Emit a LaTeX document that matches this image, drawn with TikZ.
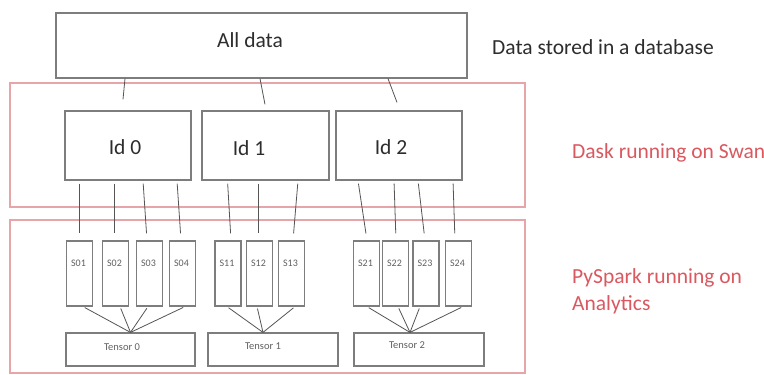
\documentclass[tikz,border=0pt]{standalone}
\usepackage{fontspec}
\setmainfont{Carlito}
\definecolor{boxgray}{RGB}{125,125,125}
\definecolor{linegray}{RGB}{85,85,85}
\definecolor{framered}{RGB}{230,165,168}
\definecolor{textred}{RGB}{218,88,95}
\definecolor{textdark}{RGB}{45,45,45}
\tikzset{
  gbox/.style={draw=boxgray, line width=1.2pt, rectangle, inner sep=0pt, fill=white},
  rframe/.style={draw=framered, line width=1.1pt, rectangle, inner sep=0pt},
  conn/.style={draw=linegray, line width=0.8pt},
  bigtxt/.style={font=\fontsize{21.5}{27}\selectfont, text=textdark, inner sep=0pt},
  redtxt/.style={font=\fontsize{21.5}{27}\selectfont, text=textred, inner sep=0pt, align=left},
  smalltxt/.style={font=\fontsize{10}{12}\selectfont, text=gray!75!black, inner sep=0pt},
  sbox/.style={gbox, minimum width=26pt, minimum height=65pt},
  tbox/.style={gbox, minimum width=129pt, minimum height=33pt},
  idbox/.style={gbox, minimum width=126pt, minimum height=69pt},
}
\begin{document}
\begin{tikzpicture}[x=1pt,y=-1pt]
\useasboundingbox (0,0) rectangle (764,375);
\fill[white] (0,0) rectangle (764,375);

% red frames
\node[rframe, minimum width=515pt, minimum height=124pt] (dask) at (267.5,145) {};
\node[rframe, minimum width=515pt, minimum height=153pt] (spark) at (267.5,296.5) {};

% all data
\node[gbox, minimum width=411pt, minimum height=65pt] (all) at (261.5,45.5) {};
\node[bigtxt] (alltxt) at (250,40) {All data};
\node[bigtxt, anchor=west] (dbtxt) at (492,47) {Data stored in a database};

% id boxes
\node[idbox] (id0) at (128,145.5) {};
\node[idbox, minimum width=127pt] (id1) at (265.5,145.5) {};
\node[idbox] (id2) at (399,145.5) {};
\node[bigtxt] (id0t) at (125,147) {Id 0};
\node[bigtxt] (id1t) at (249,148) {Id 1};
\node[bigtxt] (id2t) at (391,147) {Id 2};

% side labels
\node[redtxt, anchor=west] (dasktxt) at (572,153) {Dask running on Swan};
\node[redtxt, anchor=west] (sparktxt) at (572,291.5) {PySpark running on\\Analytics};

% S boxes
\foreach \n/\x in {s01/79.5, s02/115.5, s03/149.5, s04/182.5, s11/228, s12/259.5, s13/291.5, s21/366.5, s22/395.5, s23/426, s24/458.5}{
  \node[sbox] (\n) at (\x,273.5) {};
}
\foreach \n/\t in {s01/S01, s02/S02, s03/S03, s04/S04, s11/S11, s12/S12, s13/S13, s21/S21, s22/S22, s23/S23, s24/S24}{
  \node[smalltxt] (\n t) at ([xshift=-1pt,yshift=10pt]\n.center) {\t};
}

% tensor boxes
\node[tbox] (t0) at (130.5,349.5) {};
\node[tbox, minimum width=130pt] (t1) at (273,349.5) {};
\node[tbox, minimum width=130pt] (t2) at (419,349.5) {};
\node[smalltxt, font=\fontsize{10.5}{12}\selectfont] (t0t) at ([xshift=-8.5pt,yshift=2pt]t0.center) {Tensor 0};
\node[smalltxt, font=\fontsize{10.5}{12}\selectfont] (t1t) at ([xshift=-10pt,yshift=3pt]t1.center) {Tensor 1};
\node[smalltxt, font=\fontsize{10.5}{12}\selectfont] (t2t) at ([xshift=-12pt,yshift=4pt]t2.center) {Tensor 2};

% all data -> ids
\draw[conn] ([xshift=-3pt]id0.north |- all.south) -- ([xshift=-5pt,yshift=11pt]id0.north);
\draw[conn] ([xshift=-5.5pt]id1.north |- all.south) -- ([xshift=-0.5pt,yshift=6pt]id1.north);
\draw[conn] ([xshift=-11pt]id2.north |- all.south) -- ([xshift=-2pt,yshift=8pt]id2.north);

% ids -> S boxes
\foreach \s/\i/\a/\b in {s01/id0/0/0, s02/id0/-1.5/-1.5, s03/id0/-6.5/-2.5, s04/id0/-5.5/-1.5,
                          s11/id1/-0.5/3, s12/id1/-1.5/-1.5, s13/id1/6.5/1.5,
                          s21/id2/-8.5/0.5, s22/id2/-1.5/0.5, s23/id2/-8/-1, s24/id2/-5.5/-3.5}{
  \draw[conn, shorten <=3pt, shorten >=7pt] ([xshift=\a pt]\s.north |- \i.south) -- ([xshift=\b pt]\s.north);
}

% S boxes -> tensors
\foreach \s/\t/\a/\b in {s01/t0/3.5/0, s02/t0/4.5/0, s03/t0/-1.5/0, s04/t0/2.5/0,
                          s11/t1/-1/-10, s12/t1/-2.5/-10, s13/t1/3.5/-10,
                          s21/t2/0.5/-9, s22/t2/2.5/-9, s23/t2/-6/-9, s24/t2/4.5/-9}{
  \draw[conn, shorten <=2pt] ([xshift=\a pt]\s.south) -- ([xshift=\b pt]\t.north);
}
\end{tikzpicture}
\end{document}
